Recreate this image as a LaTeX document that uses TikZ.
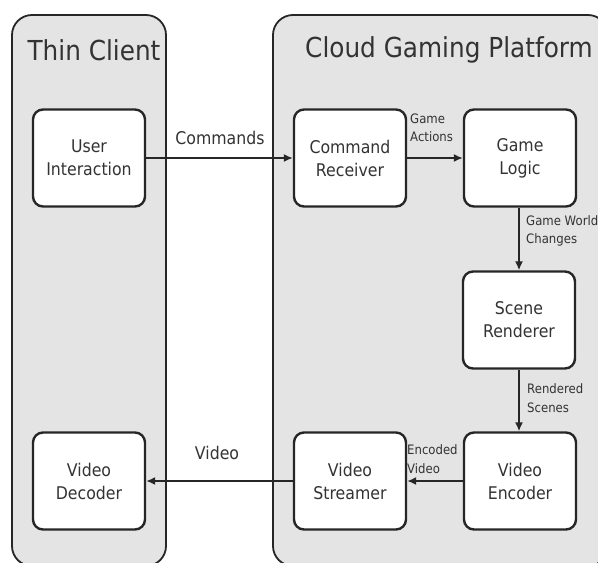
\documentclass[tikz,border=0pt]{standalone}
\usepackage{fontspec}
\setmainfont[FakeStretch=0.9]{DejaVu Sans}
\usetikzlibrary{arrows.meta}
\definecolor{txt}{HTML}{333333}
\definecolor{cont}{HTML}{E4E4E4}
\definecolor{edge}{HTML}{262626}
\begin{document}
\begin{tikzpicture}[x=1pt,y=-1pt,
  container/.style={draw=edge,fill=cont,line width=1.8pt,rounded corners=20pt},
  title/.style={text=txt,font=\fontsize{27.5}{32}\selectfont,inner sep=0pt},
  block/.style={draw=edge,fill=white,line width=2.4pt,rounded corners=10pt,
    minimum width=112pt,minimum height=97pt,align=center,text=txt,
    font=\fontsize{17.5}{23}\selectfont,inner sep=0pt},
  flow/.style={draw=edge,line width=1.6pt,-{Latex[length=9pt,width=8pt]}},
  biglab/.style={text=txt,font=\fontsize{17.5}{23}\selectfont,inner sep=0pt},
  smalllab/.style={text=txt,font=\fontsize{13}{18.5}\selectfont,inner sep=0pt,align=left,anchor=west}]
\useasboundingbox (0,0) rectangle (598,563);
\fill[white] (0,0) rectangle (598,563);
\draw[container] (12,15) rectangle (166,566);
\draw[container] (273,15) rectangle (608,566);
\node[title] (t1) at (94,50) {Thin Client};
\node[title] (t2) at (449,50) {Cloud Gaming Platform};
\node[block] (ui) at (89,158) {User\\Interaction};
\node[block] (cr) at (350,158) {Command\\Receiver};
\node[block] (gl) at (520,158) {Game\\Logic};
\node[block] (sr) at (519,320) {Scene\\Renderer};
\node[block] (ve) at (520,481) {Video\\Encoder};
\node[block] (vs) at (350,481) {Video\\Streamer};
\node[block] (vd) at (89,481) {Video\\Decoder};
\draw[flow] (ui) -- (cr);
\draw[flow] (cr) -- (gl);
\draw[flow] (gl.south -| sr) -- (sr);
\draw[flow] (sr) -- (sr |- ve.north);
\draw[flow] (ve) -- (vs);
\draw[flow] (vs) -- (vd);
\node[biglab] (lc) at (220,138) {Commands};
\node[smalllab] (la) at (410,128) {Game\\Actions};
\node[smalllab] (lw) at (526,231) {Game World\\Changes};
\node[smalllab] (lr) at (527,398) {Rendered\\Scenes};
\node[smalllab] (le) at (407,459) {Encoded\\Video};
\node[biglab] (lv) at (217,453) {Video};
\end{tikzpicture}
\end{document}
